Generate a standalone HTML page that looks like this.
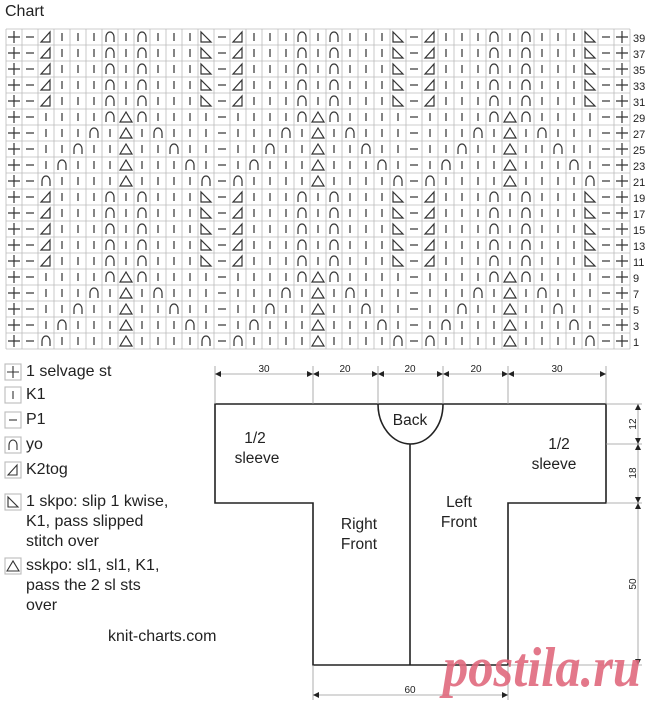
<!DOCTYPE html>
<html><head><meta charset="utf-8">
<style>
body{margin:0;width:660px;height:706px;background:#fff;overflow:hidden;font-family:"Liberation Sans",Arial,sans-serif;color:#222;position:relative}
.t{position:absolute;font-size:16px;line-height:20px;white-space:nowrap}
</style></head><body>
<div class="t" style="left:5px;top:2px;font-size:16px">Chart</div>
<svg id="g" width="660" height="706" style="position:absolute;left:0;top:0">
<g id="chart"></g>
<g font-family="Liberation Sans,Arial,sans-serif" font-size="11" fill="#222">
<text x="633" y="42">39</text><text x="633" y="58">37</text><text x="633" y="74">35</text><text x="633" y="90">33</text><text x="633" y="106">31</text>
<text x="633" y="122">29</text><text x="633" y="138">27</text><text x="633" y="154">25</text><text x="633" y="170">23</text><text x="633" y="186">21</text>
<text x="633" y="202">19</text><text x="633" y="218">17</text><text x="633" y="234">15</text><text x="633" y="250">13</text><text x="633" y="266">11</text>
<text x="633" y="282">9</text><text x="633" y="298">7</text><text x="633" y="314">5</text><text x="633" y="330">3</text><text x="633" y="346">1</text>
</g>
<g id="legend"></g>
<g fill="none" stroke="#222" stroke-width="1.6">
<path d="M215,404 H606 V503 H508 V665 H313 V503 H215 Z"/>
<path d="M378,404 A32.5,40 0 0 0 443,404"/>
<line x1="410" y1="444" x2="410" y2="665"/>
</g>
<g stroke="#999" stroke-width="0.8" fill="none">
<line x1="215" y1="366" x2="215" y2="404"/><line x1="313" y1="366" x2="313" y2="404"/><line x1="378" y1="366" x2="378" y2="404"/><line x1="443" y1="366" x2="443" y2="404"/><line x1="508" y1="366" x2="508" y2="404"/><line x1="606" y1="366" x2="606" y2="404"/>
<line x1="215" y1="374" x2="606" y2="374"/>
<line x1="606" y1="404" x2="642" y2="404"/><line x1="606" y1="444" x2="642" y2="444"/><line x1="606" y1="503" x2="642" y2="503"/><line x1="508" y1="665" x2="642" y2="665"/>
<line x1="638" y1="404" x2="638" y2="665"/>
<line x1="313" y1="665" x2="313" y2="700"/><line x1="508" y1="665" x2="508" y2="700"/>
<line x1="313" y1="695" x2="508" y2="695"/>
</g>
<g fill="#222" id="arr"></g>
<g font-family="Liberation Sans,Arial,sans-serif" font-size="10" fill="#222" text-anchor="middle">
<text x="264" y="372">30</text><text x="345" y="372">20</text><text x="410" y="372">20</text><text x="476" y="372">20</text><text x="557" y="372">30</text>
<text x="410" y="693">60</text>
<text transform="translate(636,424) rotate(-90)">12</text>
<text transform="translate(636,473) rotate(-90)">18</text>
<text transform="translate(636,584) rotate(-90)">50</text>
</g>
<g font-family="Liberation Sans,Arial,sans-serif" font-size="15.5" fill="#222" text-anchor="middle">
<text x="410" y="425">Back</text>
<text x="255" y="443">1/2</text><text x="257" y="463">sleeve</text>
<text x="559" y="449">1/2</text><text x="554" y="469">sleeve</text>
<text x="359" y="529">Right</text><text x="359" y="549">Front</text>
<text x="459" y="507">Left</text><text x="459" y="527">Front</text>
</g>
<text x="641" y="686" text-anchor="end" font-family="Liberation Serif,serif" font-size="56" font-weight="bold" font-style="italic" fill="#e06a7e" opacity="0.9" textLength="198" lengthAdjust="spacingAndGlyphs">postila.ru</text>
</svg>
<div class="t" style="left:26px;top:362px">1 selvage st</div>
<div class="t" style="left:26px;top:385px">K1</div>
<div class="t" style="left:26px;top:410px">P1</div>
<div class="t" style="left:26px;top:435px">yo</div>
<div class="t" style="left:26px;top:460px">K2tog</div>
<div class="t" style="left:26px;top:492px">1 skpo: slip 1 kwise,<br>K1, pass slipped<br>stitch over</div>
<div class="t" style="left:26px;top:556px">sskpo: sl1, sl1, K1,<br>pass the 2 sl sts<br>over</div>
<div class="t" style="left:108px;top:627px">knit-charts.com</div>
<script>
var S=16,X0=6,Y0=29;
function sym(t,x,y){var c=x+8,m=y+8,s='';
 if(t=='+')s='<path d="M'+(x+2)+','+m+'H'+(x+14)+'M'+c+','+(y+2)+'V'+(y+14)+'"/>';
 else if(t=='-')s='<path d="M'+(x+4)+','+m+'H'+(x+12)+'"/>';
 else if(t=='|')s='<path d="M'+c+','+(y+4)+'V'+(y+12)+'"/>';
 else if(t=='o')s='<path d="M'+(x+4)+','+(y+13)+'V'+(y+8)+'A4,5 0 0 1 '+(x+12)+','+(y+8)+'V'+(y+13)+'"/>';
 else if(t=='k')s='<path d="M'+(x+3)+','+(y+13)+'L'+(x+12)+','+(y+3)+'V'+(y+13)+'Z"/>';
 else if(t=='s')s='<path d="M'+(x+3)+','+(y+3)+'V'+(y+13)+'H'+(x+13)+'Z"/>';
 else if(t=='t')s='<path d="M'+(x+2)+','+(y+13)+'L'+c+','+(y+3)+'L'+(x+14)+','+(y+13)+'Z"/>';
 return s;}
var A='k|||o|o|||s',L=['||||oto||||','|||o|t|o|||','||o||t||o||','|o|||t|||o|','o||||t||||o'];
var rows=[];for(var i=0;i<5;i++)rows.push(A);rows=rows.concat(L);for(i=0;i<5;i++)rows.push(A);rows=rows.concat(L);
var h='<g stroke="#bbb" stroke-width="0.8">';
for(i=0;i<=39;i++)h+='<line x1="'+(X0+i*S)+'" y1="'+Y0+'" x2="'+(X0+i*S)+'" y2="'+(Y0+320)+'"/>';
for(i=0;i<=20;i++)h+='<line x1="'+X0+'" y1="'+(Y0+i*S)+'" x2="'+(X0+624)+'" y2="'+(Y0+i*S)+'"/>';
h+='</g><g fill="none" stroke="#333" stroke-width="1.2">';
for(var r=0;r<20;r++){var b=rows[r],full='+-'+b+'-'+b+'-'+b+'-+';
 for(var c=0;c<39;c++)h+=sym(full[c],X0+c*S,Y0+r*S);}
h+='</g>';document.getElementById('chart').innerHTML=h;
var lg='<g fill="none" stroke="#333" stroke-width="1.1">',ly=[364,387,412,437,462,494,558],lt=['+','|','-','o','k','s','t'];
for(i=0;i<7;i++){lg+='<rect x="5" y="'+ly[i]+'" width="16" height="16" stroke="#bbb"/>'+sym(lt[i],5,ly[i]);}
document.getElementById('legend').innerHTML=lg+'</g>';
function ar(x,y,d){var p;if(d=='l')p=[x,y,x+6,y-3,x+6,y+3];else if(d=='r')p=[x,y,x-6,y-3,x-6,y+3];else if(d=='u')p=[x,y,x-3,y+6,x+3,y+6];else p=[x,y,x-3,y-6,x+3,y-6];return '<polygon points="'+p.join(',')+'"/>';}
var a='',xs=[215,313,378,443,508,606];
for(i=0;i<5;i++){a+=ar(xs[i],374,'l')+ar(xs[i+1],374,'r');}
var ys=[404,444,503,665];for(i=0;i<3;i++){a+=ar(638,ys[i],'u')+ar(638,ys[i+1],'d');}
a+=ar(313,695,'l')+ar(508,695,'r');
document.getElementById('arr').innerHTML=a;
</script>
</body></html>
